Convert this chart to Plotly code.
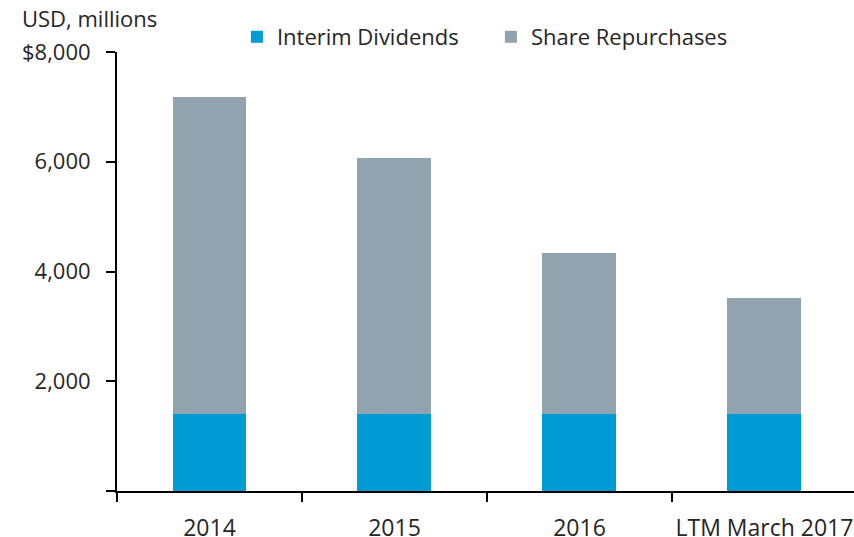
import plotly.graph_objects as go

categories = ["2014", "2015", "2016", "LTM March 2017"]
interim_dividends = [1400, 1400, 1400, 1400]
share_repurchases = [5780, 4670, 2930, 2110]
y_tickvals = [0, 2000, 4000, 6000, 8000]
y_ticktext = ["", "2,000", "4,000", "6,000", "$8,000"]

FONT = "Open Sans"
TXT = "#262626"
BLUE = "#009BD5"
GRAY = "#91A3AE"

fig = go.Figure()
fig.add_trace(go.Bar(x=categories, y=interim_dividends, name="Interim Dividends",
                     marker=dict(color=BLUE, line=dict(width=0)), width=0.4))
fig.add_trace(go.Bar(x=categories, y=share_repurchases, name="Share Repurchases",
                     marker=dict(color=GRAY, line=dict(width=0)), width=0.4))

fig.update_layout(
    barmode="stack",
    width=854, height=537,
    margin=dict(l=117, r=0, t=52, b=46, autoexpand=False),
    paper_bgcolor="white", plot_bgcolor="white",
    font=dict(family=FONT, color=TXT, size=22),
    showlegend=True,
    legend=dict(orientation="h", x=0.1627, xanchor="left", y=1 + 15 / 439, yanchor="middle",
                yref="paper", font=dict(size=22, color=TXT),
                entrywidth=209, entrywidthmode="pixels",
                bgcolor="rgba(0,0,0,0)", traceorder="normal"),
    xaxis=dict(type="category", range=[-0.5, 3.484], tickson="boundaries",
               ticks="outside", ticklen=9, tickwidth=2, tickcolor="#000",
               showline=True, linecolor="#000", linewidth=2,
               showgrid=False, tickfont=dict(size=23, color=TXT),
               ticklabelstandoff=15, automargin=False, fixedrange=True),
    yaxis=dict(range=[0, 8000], tickvals=y_tickvals, ticktext=y_ticktext,
               ticks="outside", ticklen=9, tickwidth=2, tickcolor="#000",
               showline=True, linecolor="#000", linewidth=2,
               showgrid=False, zeroline=False, tickfont=dict(size=22, color=TXT),
               ticklabelstandoff=11, automargin=False, fixedrange=True),
    annotations=[dict(text="USD, millions", xref="paper", yref="paper",
                      x=(20 - 117) / 737, y=1 + (52 - 18) / 439,
                      xanchor="left", yanchor="middle", showarrow=False,
                      font=dict(size=22, color=TXT))],
)

fig.write_html(
    "out.html",
    config={"displayModeBar": False},
    post_script="document.body.style.margin='0';document.body.style.overflow='hidden';",
)
